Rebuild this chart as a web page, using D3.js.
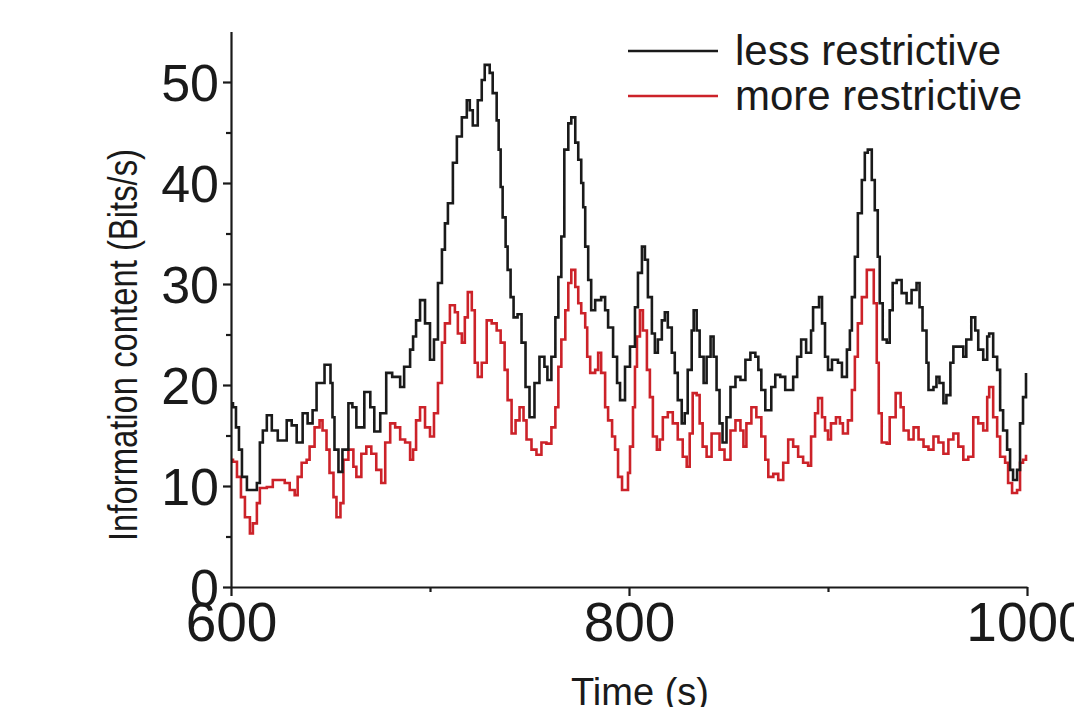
<!DOCTYPE html>
<html lang="en">
<head>
    <meta charset="UTF-8">
    <title>Information content</title>
    <script src="https://d3js.org/d3.v7.min.js"></script>
    <style>
        body {margin:0;background:#fff}
        svg text {font-family:"Liberation Sans", Arial, sans-serif;fill:#1a1a1a}
    </style>
</head>
<body>
    <div id="chart"></div>
    <script>
        // less restrictive (black) - time (s) and bits/s
        var lessTime = [600,601,602.5,604,605.5,608,611,613,614.5,616,618,620.5,623.5,628,630.5,633,636,638.5,641,643,647,650,651,652,654,656,659,661,663,667,670,672,675,678,681,685,687,690,691.5,693,695,697.5,700,702,704,706,707.5,709,711.5,713.5,716,718.5,720,721.5,724,726,727.5,730,731.5,733.5,734.5,735.5,736.5,738,739,740.5,742,744,746,748,750,752.5,755,757.5,759,761,763,764.5,766,767.5,769.5,771,773,774.5,776,777,778,779.5,781,783,786,788,789.5,792,794,795.5,798,800.5,803,804.5,806.5,808,809.5,811.5,813,814.5,816.5,818,819.5,821.5,823,824.5,826.5,828,829.5,831.5,832.5,834,835.5,837.5,839,841,842.5,844,845.5,847,849,851,853.5,856,858.5,861,863.5,865,866.5,868.5,870,871.5,873.5,876,878.5,881,882.5,884.5,886.5,889,891.5,892.5,895.5,897,898.5,900,902,905,907,909.5,911,912,913.5,915,917,918.5,920,922,923.5,925,926,927.5,929.5,931,932.5,934.5,937,939.5,942,944.5,946,947.5,949.5,950.5,953,954.5,956,958,959.5,961.5,963,965.5,968,969.5,972,974,975.5,978,980,981,983,985,986.5,988,990,991.5,993,995,996.5,998,999.5];
        var lessValue = [18.2,17.8,15.8,13.6,10.9,9.6,9.6,10.3,14.3,15.5,17.0,15.5,14.5,16.5,16,14.3,17.2,16.2,17.5,20.2,22,20.2,16.8,13.6,11.4,13.6,18.2,17.8,15.8,19.3,17.8,15.4,17.2,21.2,20.8,19.8,21.8,23.5,24.8,26.4,28.4,26.1,22.5,24.5,30.1,33.4,36,38,42,44.6,46.5,48.2,47.2,45.7,48.2,50.2,51.7,50.9,48.9,46.2,43.3,39.6,36.6,33.7,31.4,28.7,26.7,27,24.2,19.8,16.8,20.2,22.8,21.8,20.5,22.8,26.7,30.7,34.7,43.3,45.9,46.5,44,42.3,40,37.6,33.7,30.4,27.4,28.4,28.7,27.4,25.7,22.8,20.2,18.5,21.8,23.8,27.7,31.1,33.7,32.4,28.7,25.1,23.2,24.5,26.4,27.2,25.7,23.2,21.2,18.5,16.2,17.2,21.5,25.4,27.4,25.4,22.8,20.2,22.8,24.8,22.8,19.5,16.2,14.3,16.8,19.8,20.8,20.5,22.5,23.2,22.8,21.5,19.5,17.5,17.5,19.8,21,20.8,19.5,19.5,20.8,22.8,24.5,23.2,25.4,27.7,28.7,26.1,22.8,21.5,22.5,22.2,20.8,23.5,25.4,28.7,32.7,37,40.3,43,43.3,40.3,37.3,32.7,28.1,24.5,24.2,27.4,30.1,30.4,29.1,28.1,29.4,30.1,27.7,25.4,22.2,19.5,19.8,20.8,20.2,18.2,19,22.2,23.8,23.8,22.8,24.5,26.7,25.4,23.5,22.5,24.8,25.1,22.8,21.5,17.5,15.5,13.6,11.6,10.6,11.6,16.2,18.8,21.2];

        // more restrictive (red)
        var moreTime = [600,601,603,605,607,609.5,611,613,614.5,618,621,624.5,627,629.5,632,633.5,635.5,638,639.5,642,644.5,646,648,649.5,651.5,653,655,656.5,659,661.5,663,665.5,668,670.5,673,675.5,677.5,680,682.5,685,687.5,690,691.5,693,695,697.5,700,702,704,706,707.5,710,712.5,714,716,717.5,719,721,722.5,724,726,728.5,731,733.5,735.5,737.5,739,741,743,745,747,748.5,751,753.5,756,758.5,761,763,764.5,766,768,769.5,771,773,774.5,776,778,779,780.5,783,784.5,786,788,789.5,791.5,793,794.5,796.5,798,799.5,800.5,802,803,804,805.5,807,809,810.5,812,814,815.5,817,819.5,822,824.5,827,829,830.5,832,834,835.5,837,839,841.5,844,845.5,848,851,853.5,856,857.5,859,861.5,864,866.5,868.5,870,872.5,875,877.5,880,882.5,885,887.5,890,891.5,893.5,895,897,898.5,900,901.5,904,906,907.5,910,912,913.5,915,917,919.5,921,923,924.5,925.5,927,929.5,931,934,936.5,938,940.5,943,945.5,948,950.5,953,955.5,958,960.5,963,965.5,968,970.5,973,975.5,978,980,981,983,985,986.5,989,990.5,992.5,995,996.5,998,999.5];
        var moreValue = [12.6,12.4,10.9,8.9,6.9,5.3,6.3,8.3,9.8,9.9,10.6,10.6,10.3,9.6,9.1,10.9,12.3,12.6,13.9,15.8,16.5,15.5,13.6,11.3,8.9,6.9,8.3,12.6,13.6,11.9,10.9,13.2,13.9,13.2,11.6,10.3,14.3,16.2,15.8,14.6,14.3,12.6,13.6,16.5,17.8,15.8,14.9,17.2,20.2,24.2,26.1,27.9,27.2,25.1,24.2,26.7,29.2,27.4,22.2,20.8,22.2,26.4,26.1,25.4,24.2,21.5,18.5,15.2,16.5,17.8,16.5,14.6,13.6,13.1,14.3,14.2,15.8,17.8,21.8,24.5,27.4,30.1,31.4,29.7,28.1,27.1,25.7,22.8,21.2,21.5,23.2,21.2,17.8,16.5,14.9,13.6,10.9,9.6,9.6,11.3,13.9,17.8,21.8,24.8,27.4,25.4,21.5,18.8,14.9,13.6,14.6,16.8,17.3,16.2,14.6,12.9,11.9,15.2,19.2,19,16.2,13.9,12.9,15.2,15.2,13.6,12.6,15.5,16.5,15.5,13.9,16.2,17.8,16.8,14.9,12.6,10.9,11.2,10.6,12.3,14.6,13.9,12.9,12.3,12,14.9,17.2,18.7,16.8,15.5,14.6,16.2,16.8,16.2,15.2,16.5,19.5,22.8,26.1,28.7,31.4,31.4,28.1,22.2,17.2,14.3,14.2,16.8,19.2,17.8,15.5,14.6,15.8,14.6,13.9,13.6,14.9,14.3,13.2,14.6,15.2,13.9,12.6,12.9,16.8,16.2,15.5,18.8,19.8,16.8,14.9,12.9,12.3,10.3,9.3,9.6,12.3,12.6,13.1];

        var xMajor = [600, 800, 1000];
        var xMinor = [700, 900];
        var yMajor = [0, 10, 20, 30, 40, 50];
        var yMinor = [5, 15, 25, 35, 45];
        var seriesNames = ["less restrictive", "more restrictive"];
        var seriesColors = ["#1a1a1a", "#cc2229"];

        var W = 1074, H = 707;
        var svg = d3.select("#chart").append("svg")
            .attr("width", W)
            .attr("height", H);

        var x = d3.scaleLinear().domain([600, 1000]).range([231, 1027]);
        var y = d3.scaleLinear().domain([0, 55]).range([587, 31.5]);

        var line = d3.line()
            .x(d => x(d[0]))
            .y(d => y(d[1]))
            .curve(d3.curveStepAfter);

        var lessData = lessTime.map((t, i) => [t, lessValue[i]]);
        var moreData = moreTime.map((t, i) => [t, moreValue[i]]);

        svg.append("path")
            .datum(moreData)
            .attr("fill", "none")
            .attr("stroke", seriesColors[1])
            .attr("stroke-width", 2.6)
            .attr("d", line);

        svg.append("path")
            .datum(lessData)
            .attr("fill", "none")
            .attr("stroke", seriesColors[0])
            .attr("stroke-width", 2.6)
            .attr("d", line);

        // axes
        var xAxis = svg.append("g")
            .attr("transform", "translate(0,587)")
            .call(d3.axisBottom(x).tickValues(xMajor).tickSize(9).tickSizeOuter(0).tickPadding(6).tickFormat(d3.format("d")));
        xAxis.selectAll("text").style("font-size", "55px");
        svg.append("g")
            .attr("transform", "translate(0,587)")
            .call(d3.axisBottom(x).tickValues(xMinor).tickSize(5).tickSizeOuter(0).tickFormat(""))
            .select(".domain").remove();

        var yAxis = svg.append("g")
            .attr("transform", "translate(231,0)")
            .call(d3.axisLeft(y).tickValues(yMajor).tickSize(8).tickSizeOuter(0).tickPadding(4));
        yAxis.selectAll("text").style("font-size", "52px").attr("dy", "0.36em");
        svg.append("g")
            .attr("transform", "translate(231,0)")
            .call(d3.axisLeft(y).tickValues(yMinor).tickSize(5).tickSizeOuter(0).tickFormat(""))
            .select(".domain").remove();

        svg.selectAll(".domain, .tick line")
            .attr("stroke", "#1a1a1a")
            .attr("stroke-width", 2.2);

        // axis titles
        svg.append("text")
            .attr("x", 640)
            .attr("y", 705)
            .attr("text-anchor", "middle")
            .style("font-size", "38px")
            .text("Time (s)");

        svg.append("text")
            .attr("transform", "translate(137,345) rotate(-90)")
            .attr("text-anchor", "middle")
            .attr("textLength", 392)
            .attr("lengthAdjust", "spacingAndGlyphs")
            .style("font-size", "40px")
            .text("Information content (Bits/s)");

        // legend
        var legend = svg.append("g");
        seriesNames.forEach(function(name, i) {
            var ly = 51 + i * 45;
            legend.append("line")
                .attr("x1", 628).attr("x2", 718)
                .attr("y1", ly).attr("y2", ly)
                .attr("stroke", seriesColors[i])
                .attr("stroke-width", 2.4);
            legend.append("text")
                .attr("x", 735)
                .attr("y", ly + 14)
                .style("font-size", "42px")
                .text(name);
        });
    </script>
</body>
</html>
